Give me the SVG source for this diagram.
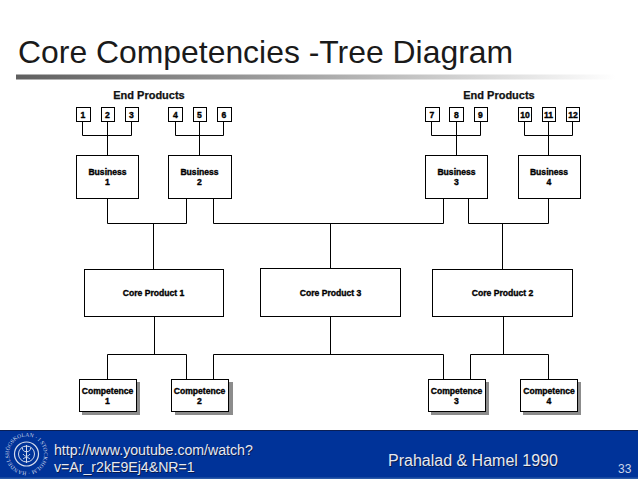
<svg xmlns="http://www.w3.org/2000/svg" width="638" height="479" viewBox="0 0 638 479">
<style>
.f{font-family:"Liberation Sans",Arial,sans-serif}
.b{fill:#fff;stroke:#000;stroke-width:1}
.l{font-family:"Liberation Sans",Arial,sans-serif;font-weight:bold;font-size:8.6px;fill:#000;text-anchor:middle;stroke:#000;stroke-width:.35}
.h{font-family:"Liberation Sans",Arial,sans-serif;font-weight:bold;font-size:11px;fill:#111;text-anchor:middle;stroke:#111;stroke-width:.25}
.c{fill:none;stroke:#000;stroke-width:1}
.s{fill:#8c8c8c}
.w{font-family:"Liberation Sans",Arial,sans-serif;fill:#e6e9f2}
.sh{font-family:"Liberation Sans",Arial,sans-serif;fill:#0a1a4a}
</style>
<defs>
<linearGradient id="g" x1="0" x2="1" y1="0" y2="0"><stop offset="0" stop-color="#5f5f5f"/><stop offset=".5" stop-color="#a8a8a8"/><stop offset="1" stop-color="#fff"/></linearGradient>
<path id="arc" d="M26.500 471.500A17.500 17.500 0 1 1 26.600 471.500"/>
</defs>
<rect width="638" height="479" fill="#fff"/>
<text class="f" x="18" y="62.500" font-size="31.900" fill="#1a1a1a">Core Competencies -Tree Diagram</text>
<rect x="16" y="74.500" width="600" height="5" fill="url(#g)"/>
<text class="h" x="149" y="99">End Products</text>
<text class="h" x="499" y="99">End Products</text>
<g id="connectors">
<path class="c" d="M82.500 121V135.500H131.500V121M107.500 121V155"/>
<path class="c" d="M175.500 121V135.500H223.500V121M199.500 121V155"/>
<path class="c" d="M431.500 121V135.500H480.500V121M456.500 121V155"/>
<path class="c" d="M524.500 121V135.500H572.500V121M548.500 121V155"/>
<path class="c" d="M107.500 198V223.500H186.500V198M153.500 223.500V269"/>
<path class="c" d="M213.500 198V223.500H443.500V198M330.500 223.500V268"/>
<path class="c" d="M468.500 198V223.500H548.500V198M502.500 223.500V269"/>
<path class="c" d="M154.500 316V354.500M107.500 379V354.500H186.500V379"/>
<path class="c" d="M213.500 379V354.500H443.500V379M330.500 316V354.500"/>
<path class="c" d="M503.500 316V354.500M470.500 379V354.500H548.500V379"/>
</g>
<g id="p1"><rect class="b" x="76.500" y="107.500" width="14" height="14"/><text class="l" x="83" y="118">1</text></g>
<g id="p2"><rect class="b" x="101.500" y="107.500" width="13" height="14"/><text class="l" x="107.500" y="118">2</text></g>
<g id="p3"><rect class="b" x="125.500" y="107.500" width="13" height="14"/><text class="l" x="131.500" y="118">3</text></g>
<g id="p4"><rect class="b" x="168.500" y="107.500" width="14" height="14"/><text class="l" x="175.500" y="118">4</text></g>
<g id="p5"><rect class="b" x="193.500" y="107.500" width="13" height="14"/><text class="l" x="199.500" y="118">5</text></g>
<g id="p6"><rect class="b" x="217.500" y="107.500" width="14" height="14"/><text class="l" x="224" y="118">6</text></g>
<g id="p7"><rect class="b" x="425.500" y="107.500" width="14" height="14"/><text class="l" x="432" y="118">7</text></g>
<g id="p8"><rect class="b" x="449.500" y="107.500" width="14" height="14"/><text class="l" x="456.500" y="118">8</text></g>
<g id="p9"><rect class="b" x="474.500" y="107.500" width="13" height="14"/><text class="l" x="480.500" y="118">9</text></g>
<g id="p10"><rect class="b" x="518.500" y="107.500" width="13" height="14"/><text class="l" x="525" y="118">10</text></g>
<g id="p11"><rect class="b" x="542.500" y="107.500" width="13" height="14"/><text class="l" x="548.500" y="118">11</text></g>
<g id="p12"><rect class="b" x="566.500" y="107.500" width="13" height="14"/><text class="l" x="573" y="118">12</text></g>
<g id="b1"><rect class="b" x="76.500" y="155.500" width="62" height="43"/><text class="l" x="107.500" y="175">Business</text><text class="l" x="107.500" y="185">1</text></g>
<g id="b2"><rect class="b" x="168.500" y="155.500" width="63" height="43"/><text class="l" x="199.500" y="175">Business</text><text class="l" x="199.500" y="185">2</text></g>
<g id="b3"><rect class="b" x="425.500" y="155.500" width="62" height="43"/><text class="l" x="456.500" y="175">Business</text><text class="l" x="456.500" y="185">3</text></g>
<g id="b4"><rect class="b" x="518.500" y="155.500" width="62" height="43"/><text class="l" x="549" y="175">Business</text><text class="l" x="549" y="185">4</text></g>
<g id="cp1"><rect class="b" x="84.500" y="269.500" width="139" height="47"/><text class="l" x="153.500" y="296">Core Product 1</text></g>
<g id="cp3"><rect class="b" x="260.500" y="268.500" width="140" height="48"/><text class="l" x="330.500" y="296">Core Product 3</text></g>
<g id="cp2"><rect class="b" x="432.500" y="269.500" width="140" height="47"/><text class="l" x="502.500" y="296">Core Product 2</text></g>
<g id="c1"><rect class="s" x="82" y="382" width="58" height="33"/><rect class="b" x="79.500" y="379.500" width="57" height="32"/><text class="l" x="107.500" y="394">Competence</text><text class="l" x="107.500" y="404">1</text></g>
<g id="c2"><rect class="s" x="175" y="382" width="58" height="33"/><rect class="b" x="171.500" y="379.500" width="57" height="32"/><text class="l" x="199.500" y="394">Competence</text><text class="l" x="199.500" y="404">2</text></g>
<g id="c3"><rect class="s" x="431" y="382" width="58" height="33"/><rect class="b" x="428.500" y="379.500" width="57" height="32"/><text class="l" x="456.500" y="394">Competence</text><text class="l" x="456.500" y="404">3</text></g>
<g id="c4"><rect class="s" x="523" y="382" width="58" height="33"/><rect class="b" x="520.500" y="379.500" width="57" height="32"/><text class="l" x="549" y="394">Competence</text><text class="l" x="549" y="404">4</text></g>
<g id="footer">
<rect x="0" y="430" width="638" height="49" fill="#003399"/>
<rect x="0" y="430" width="638" height="1" fill="#0a1f55"/>
<rect x="0" y="477.500" width="638" height="1.500" fill="#2a5aa8"/>
<g fill="none" stroke="#d5dcec">
<circle cx="26.500" cy="454" r="12" stroke-width="1.200"/>
<circle cx="26.500" cy="454" r="8" stroke-width="1"/>
<path d="M26.500 445V463M22.500 448C22 453 31 453 30.500 448M23 454C25 457 28 457 30 454M23 459C25 457 28 457 30 459" stroke-width="1"/>
</g>
<text font-family="'Liberation Serif',serif" font-size="5.500" fill="#d5dcec" textLength="108"><textPath href="#arc">HANDELSHÖGSKOLAN · I STOCKHOLM ·</textPath></text>
<text class="sh" x="55" y="456" font-size="14.150">http://www.youtube.com/watch?</text>
<text class="w" x="54" y="455" font-size="14.150">http://www.youtube.com/watch?</text>
<text class="sh" x="55" y="473" font-size="14.150">v=Ar_r2kE9Ej4&amp;NR=1</text>
<text class="w" x="54" y="472" font-size="14.150">v=Ar_r2kE9Ej4&amp;NR=1</text>
<text class="sh" x="389" y="467" font-size="16">Prahalad &amp; Hamel 1990</text>
<text class="w" x="388" y="466" font-size="16">Prahalad &amp; Hamel 1990</text>
<text class="f" x="618" y="473" font-size="12" fill="#c9d3e8">33</text>
</g>
</svg>
